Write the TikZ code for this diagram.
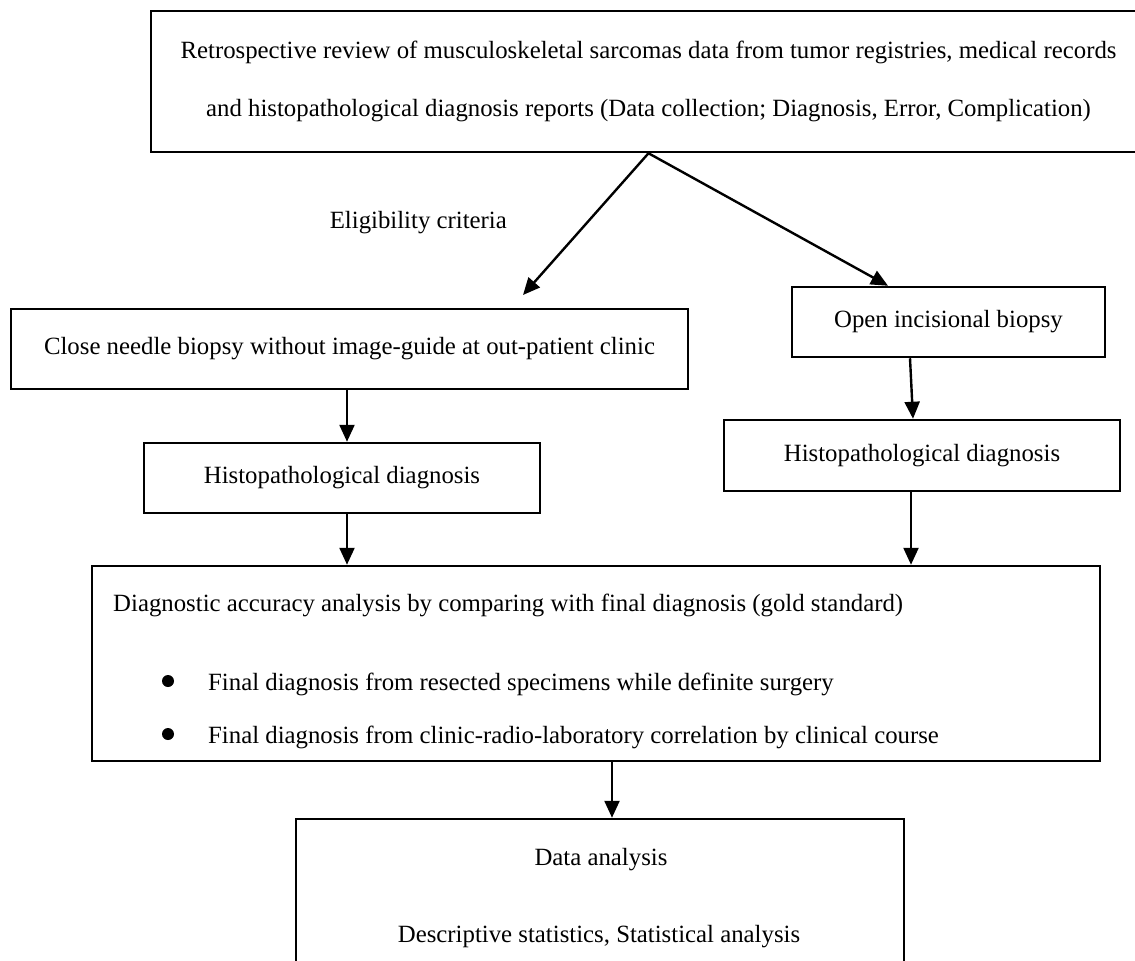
\documentclass[tikz,border=0pt]{standalone}
\usepackage{fontspec}
\setmainfont{Liberation Serif}
\usetikzlibrary{arrows.meta}
\begin{document}
\begin{tikzpicture}[x=1pt,y=-1pt,
  box/.style={draw, line width=2.5pt, inner sep=0pt, font=\fontsize{24.8}{58}\selectfont, align=center},
  arr/.style={line width=2.4pt, -{Triangle[length=17pt,width=15pt]}},
  dot/.style={circle, fill, inner sep=0pt, minimum size=12pt},
  lbl/.style={font=\fontsize{24.8}{30}\selectfont, inner sep=0pt}]
\useasboundingbox (0,0) rectangle (1135,961);
\clip (0,0) rectangle (1135,961);
% boxes
\node[box, minimum width=995pt, minimum height=141pt] (top) at (648.5,81.5)
  {Retrospective review of musculoskeletal sarcomas data from tumor registries, medical records\\
   and histopathological diagnosis reports (Data collection; Diagnosis, Error, Complication)};
\node[lbl, anchor=base east] (elig) at (507,228) {Eligibility criteria};
\node[box, minimum width=677pt, minimum height=80pt] (close) at (349.5,349)
  {Close needle biopsy without image-guide at out-patient clinic};
\node[box, minimum width=396pt, minimum height=70pt] (lhist) at (342,478)
  {Histopathological diagnosis};
\node[box, minimum width=313pt, minimum height=70pt] (open) at (948.5,322)
  {Open incisional biopsy};
\node[box, minimum width=396pt, minimum height=71pt] (rhist) at (922,455.5)
  {Histopathological diagnosis};
\node[box, minimum width=1008pt, minimum height=195pt] (diag) at (596,663.5) {};
\node[lbl, anchor=base west] (d0) at (113,611)
  {Diagnostic accuracy analysis by comparing with final diagnosis (gold standard)};
\node[dot] (b1) at (168,681) {};
\node[lbl, anchor=base west] (d1) at (208,690)
  {Final diagnosis from resected specimens while definite surgery};
\node[dot] (b2) at (168,734) {};
\node[lbl, anchor=base west] (d2) at (208,743)
  {Final diagnosis from clinic-radio-laboratory correlation by clinical course};
\node[box, minimum width=608pt, minimum height=171pt] (ana) at (600,904.5) {};
\node[lbl, anchor=base] (a1) at (601,865) {Data analysis};
\node[lbl, anchor=base] (a2) at (599,942) {Descriptive statistics, Statistical analysis};
% connectors
\coordinate (lt) at (523,295);
\draw[arr] (top.south) -- (lt);
\draw[arr] (top.south) -- ([xshift=-60.5pt]open.north);
\draw[arr] ([xshift=-2.5pt]close.south) -- ([xshift=5pt]lhist.north);
\draw[arr] ([xshift=5pt]lhist.south) -- ([xshift=-249pt]diag.north);
\draw[arr] ([xshift=-38.5pt]open.south) -- ([xshift=-9pt]rhist.north);
\draw[arr] ([xshift=-11pt]rhist.south) -- ([xshift=315pt]diag.north);
\draw[arr] ([xshift=16pt]diag.south) -- ([xshift=12pt]ana.north);
\end{tikzpicture}
\end{document}
